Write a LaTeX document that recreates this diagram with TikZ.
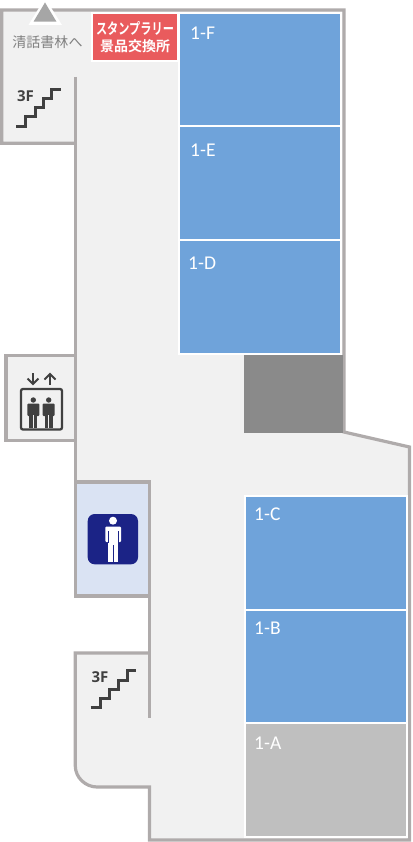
\documentclass[tikz,border=0pt]{standalone}
\usepackage{fontspec}
\setmainfont{Carlito}
\newfontfamily\cjk{Noto Sans CJK JP}
\newfontfamily\cjkb{Noto Sans CJK JP Bold}
\newfontfamily\nsans{Open Sans}[BoldFont=* Bold]
\definecolor{wallc}{HTML}{AFABAB}
\definecolor{floorc}{HTML}{F1F1F1}
\definecolor{roomb}{HTML}{6FA3DA}
\definecolor{rooma}{HTML}{BFBFBF}
\definecolor{iconc}{HTML}{404040}
\definecolor{wcc}{HTML}{DAE3F3}
\definecolor{navyc}{HTML}{1B2386}
\definecolor{stampc}{HTML}{E95B5D}
\tikzset{
  wall/.style={draw=wallc,line width=3.2pt,line join=miter},
  room/.style={draw=white,line width=2pt},
  roomlabel/.style={text=white,font=\fontsize{19.5}{20}\selectfont,anchor=west,inner sep=0pt},
  stairline/.style={draw=iconc,line width=3pt,line join=miter},
  flabel/.style={text=iconc,font=\nsans\bfseries\fontsize{15}{16}\selectfont,inner sep=0pt},
  iconline/.style={draw=iconc,line width=2.3pt},
  arrowline/.style={draw=iconc,line width=2pt,line join=miter}
}
\newcommand{\eleperson}[1]{%
  \begin{scope}[shift={(#1,0)}]
    \fill[iconc] (0,400) circle (2.7);
    \fill[iconc,rounded corners=1pt] (-6,403.5) rectangle (6,416);
    \fill[iconc] (-4,403.5) rectangle (4,428);
    \fill[floorc] (-0.3,415) rectangle (0.3,428);
  \end{scope}}
\begin{document}
\begin{tikzpicture}[x=1pt,y=-1pt]
\useasboundingbox (0,0) rectangle (412,842);
% floor
\fill[floorc] (1.7,10) -- (344,10) -- (344,432) -- (409.5,447) -- (409.5,840) -- (149.5,840) -- (149.5,787) -- (97,787)
  .. controls (85.5,787) and (75.3,777.5) .. (75.3,766) -- (75.3,653) -- (149.5,653) -- (149.5,482) -- (75.7,482) -- (75.7,143) -- (1.7,143) -- cycle;
\fill[floorc] (6,356) rectangle (76,440);
% restroom
\fill[wcc] (76,482) rectangle (149.5,596);
% walls
\draw[wall] (75.7,143.3) -- (1.7,143.3) -- (1.7,10) -- (344,10) -- (344,432) -- (409.5,447) -- (409.5,840) -- (149.5,840) -- (149.5,787) -- (97,787)
  .. controls (85.5,787) and (75.3,777.5) .. (75.3,766) -- (75.3,653) -- (149.5,653);
\draw[wall] (75.7,77) -- (75.7,482);
\draw[wall] (75.7,355.5) -- (6,355.5) -- (6,440.5) -- (75.7,440.5);
\draw[wall] (75.7,596) -- (75.7,482) -- (149.5,482) -- (149.5,596) -- cycle;
\draw[wall] (149.5,596) -- (149.5,718);
% rooms
\fill[black!46] (244,355) rectangle (342.5,433);
\path[room,fill=roomb] (179,13) rectangle (341,126);
\path[room,fill=roomb] (179,126.5) rectangle (341,240);
\path[room,fill=roomb] (179,240) rectangle (341,354);
\path[room,fill=roomb] (245,496) rectangle (407,609.5);
\path[room,fill=roomb] (245,609.5) rectangle (407,723);
\path[room,fill=rooma] (245,723) rectangle (407,837);
\node[roomlabel] (rf) at (190,33) {1-F};
\node[roomlabel] (re) at (190,150.5) {1-E};
\node[roomlabel] (rd) at (188,263.5) {1-D};
\node[roomlabel] (rc) at (254,514.5) {1-C};
\node[roomlabel] (rb) at (254,628.5) {1-B};
\node[roomlabel] (ra) at (254,743.5) {1-A};
% stamp
\path[draw=white,line width=1.5pt,fill=stampc] (92,13) rectangle (178,61);
\node[text=white,font=\cjkb\fontsize{14}{16.5}\selectfont,align=center,inner sep=0pt] (stamp) at (135,37) {\resizebox{78pt}{13pt}{スタンプラリー}\\景品交換所};
% triangle
\fill[white] (45,-2) -- (62,25) -- (28.5,25) -- cycle;
\fill[black!35] (45,2.5) -- (56.5,21.7) -- (33.5,21.7) -- cycle;
\node[text=black!50,font=\cjk\fontsize{14}{16}\selectfont,inner sep=0pt] (to) at (47.5,42) {清話書林へ};
% stairs
\draw[stairline] (16,126.5) -- (25,126.5) -- (25,116.7) -- (35,116.7) -- (35,107.3) -- (43.3,107.3) -- (43.3,98.3) -- (51.7,98.3) -- (51.7,89.3) -- (61,89.3);
\node[flabel] (s1) at (25.5,96.5) {3F};
\draw[stairline] (90.7,707.3) -- (100.7,707.3) -- (100.7,698.3) -- (109.3,698.3) -- (109.3,689.3) -- (118.3,689.3) -- (118.3,680) -- (127.3,680) -- (127.3,670.7) -- (136,670.7);
\node[flabel] (s2) at (100,677) {3F};
% elevator
\draw[iconline,rounded corners=2pt] (21,389) rectangle (62,429.5);
\eleperson{33.3}
\eleperson{48.7}
\draw[arrowline] (33,373) -- (33,384);
\draw[arrowline] (27.5,378.5) -- (33,384) -- (38.5,378.5);
\draw[arrowline] (50,385) -- (50,374);
\draw[arrowline] (44.5,379.5) -- (50,374) -- (55.5,379.5);
% restroom icon
\fill[navyc,rounded corners=7pt] (87.7,514) rectangle (138,564.3);
\fill[white] (113,520.7) circle (4);
\fill[white,rounded corners=1pt] (105.3,526.5) rectangle (121,542);
\fill[white] (108.3,527) rectangle (117.7,561.7);
\fill[navyc] (112.6,545) rectangle (113.4,562);
\fill[navyc] (107.5,531) rectangle (108.3,543);
\fill[navyc] (117.7,531) rectangle (118.5,543);
\end{tikzpicture}
\end{document}
